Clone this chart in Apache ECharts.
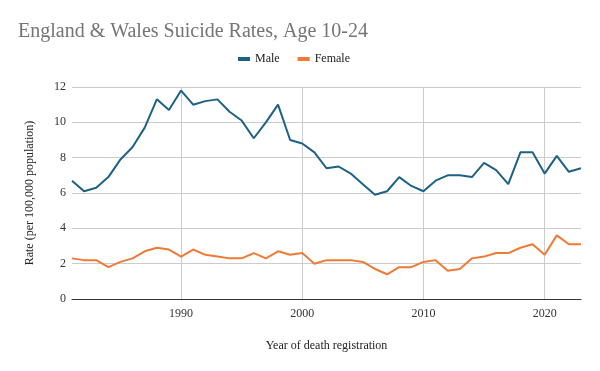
<!DOCTYPE html>
<html><head><meta charset="utf-8">
<script src="https://cdn.jsdelivr.net/npm/echarts@6/dist/echarts.min.js"></script>
<style>html,body{margin:0;padding:0;background:#fff}#c{width:600px;height:371px}</style>
</head><body><div id="c"></div>
<script>
const years = [];
for (let y = 1981; y <= 2023; y++) years.push(String(y));
const male = [6.7,6.1,6.3,6.9,7.9,8.6,9.7,11.3,10.7,11.8,11.0,11.2,11.3,10.6,10.1,9.1,10.0,11.0,9.0,8.8,8.3,7.4,7.5,7.1,6.5,5.9,6.1,6.9,6.4,6.1,6.7,7.0,7.0,6.9,7.7,7.3,6.5,8.3,8.3,7.1,8.1,7.2,7.4];
const female = [2.3,2.2,2.2,1.8,2.1,2.3,2.7,2.9,2.8,2.4,2.8,2.5,2.4,2.3,2.3,2.6,2.3,2.7,2.5,2.6,2.0,2.2,2.2,2.2,2.1,1.7,1.4,1.8,1.8,2.1,2.2,1.6,1.7,2.3,2.4,2.6,2.6,2.9,3.1,2.5,3.6,3.1,3.1];
const serif = '"Liberation Serif", "DejaVu Serif", serif';
const decade = (i, v) => Number(v) % 10 === 0;
const chart = echarts.init(document.getElementById('c'));
chart.setOption({
  animation: false,
  title: { text: 'England & Wales Suicide Rates, Age 10-24', left: 13, top: 17,
    textStyle: { fontFamily: serif, fontSize: 20, fontWeight: 'normal', color: '#757575' } },
  legend: { top: 48, left: 233, itemWidth: 12, itemHeight: 4, itemGap: 18, icon: 'rect',
    textStyle: { fontFamily: serif, fontSize: 12, color: '#222' },
    data: ['Male', 'Female'] },
  grid: { left: 72, right: 19, top: 87, bottom: 72 },
  xAxis: { type: 'category', data: years, boundaryGap: false,
    name: 'Year of death registration', nameLocation: 'middle', nameGap: 41,
    nameTextStyle: { fontFamily: serif, fontSize: 12, color: '#222' },
    axisLine: { lineStyle: { color: '#333', width: 1 } },
    axisTick: { show: false },
    axisLabel: { interval: decade, fontFamily: serif, fontSize: 12, color: '#333', margin: 9 },
    splitLine: { show: true, interval: decade, lineStyle: { color: '#cccccc' } } },
  yAxis: { type: 'value', min: 0, max: 12, interval: 2,
    name: 'Rate (per 100,000 population)', nameLocation: 'middle', nameGap: 36,
    nameTextStyle: { fontFamily: serif, fontSize: 12, color: '#222' },
    axisLine: { show: false }, axisTick: { show: false },
    axisLabel: { fontFamily: serif, fontSize: 12, color: '#333', margin: 6 },
    splitLine: { lineStyle: { color: '#cccccc' } } },
  series: [
    { name: 'Male', type: 'line', data: male, symbol: 'none', color: '#1d6285', lineStyle: { width: 2 } },
    { name: 'Female', type: 'line', data: female, symbol: 'none', color: '#ef7a35', lineStyle: { width: 2 } }
  ]
});
</script></body></html>
